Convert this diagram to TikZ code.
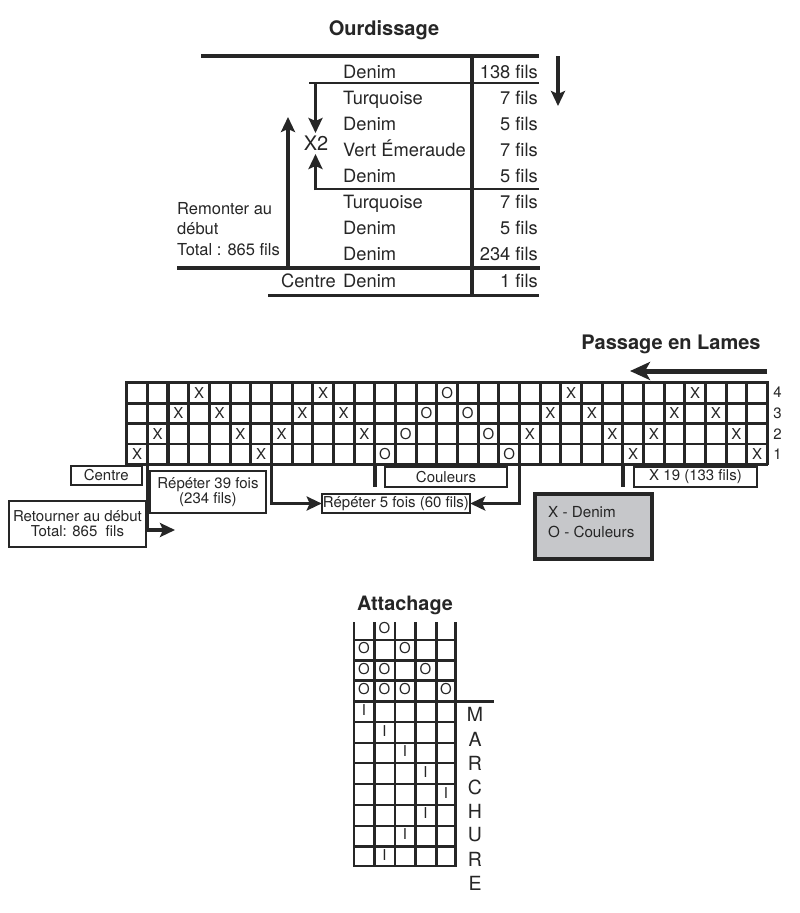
\documentclass[tikz,border=0pt]{standalone}
\usepackage{fontspec}
\setmainfont{TeX Gyre Heros}
\usetikzlibrary{arrows.meta}
\definecolor{ink}{HTML}{262626}
\definecolor{panel}{HTML}{C6C7CA}
\newcommand{\fsz}[1]{\fontsize{#1}{#1}\selectfont}
\tikzset{
  rule/.style={draw=ink,line width=#1},
  rule/.default=2pt,
  bigarrow/.style={draw=ink,line width=#1,-{Stealth[length=15pt,width=14pt,inset=3pt]}},
  bigarrow/.default=3.4pt,
  title/.style={inner sep=0pt,text=ink,font=\bfseries\fsz{20}},
  row/.style={inner sep=0pt,text=ink,font=\fsz{18.3},anchor=base west},
  qty/.style={inner sep=0pt,text=ink,font=\fsz{18.3},anchor=base east},
  note/.style={inner sep=0pt,text=ink,font=\fsz{16.5},anchor=base west},
  cellmark/.style={inner sep=0pt,text=ink,font=\fsz{15}},
  tagbox/.style={draw=ink,line width=2pt,fill=white,inner sep=0pt,outer sep=0pt,text=ink,font=\fsz{15},align=center,anchor=north west},
  letter/.style={inner sep=0pt,text=ink,font=\fsz{19.5}},
}
\begin{document}
\begin{tikzpicture}[x=1pt,y=-1pt]
\useasboundingbox (0,0) rectangle (800,913);
\fill[white] (0,0) rectangle (800,913);

% ---------- Ourdissage ----------
\node[title] (t1) at (384,30) {Ourdissage};
\draw[rule=3.4pt] (201,56) -- (539,56);
\draw[rule=2.4pt] (309,83) -- (539,83);
\draw[rule=2.4pt] (315,189) -- (539,189);
\draw[rule=4pt] (177,268) -- (540,268);
\draw[rule=3.4pt] (268,295.5) -- (539,295.5);
\draw[rule=3.6pt] (472,56) -- (472,295.5);

\foreach \yy/\nm/\q in {78/Denim/138 fils,104/Turquoise/7 fils,130/Denim/5 fils,156/Vert Émeraude/7 fils,182/Denim/5 fils,208.5/Turquoise/7 fils,234.5/Denim/5 fils,260.5/Denim/234 fils,287/Denim/1 fils}{
  \node[row] (n\yy) at (343,\yy) {\nm};
  \node[qty] (q\yy) at (538,\yy) {\q};
}
\node[inner sep=0pt,text=ink,font=\fsz{18.3},anchor=base east] (centre) at (336,287) {Centre};
\node[inner sep=0pt,text=ink,font=\fsz{20}] (x2) at (316,143) {X2};
\node[note] (r1) at (177,214) {Remonter au};
\node[note] (r2) at (177,234) {début};
\node[note] (r3) at (177,255) {Total : 865 fils};

\coordinate (dA) at (558,56);
\coordinate (dB) at (558,106);
\draw[bigarrow] (dA) -- (dB);
\coordinate (xA) at (315.5,84);
\coordinate (xB) at (315.5,133);
\draw[bigarrow] (xA) -- (xB);
\coordinate (xC) at (315.5,190);
\coordinate (xD) at (315.5,154);
\draw[bigarrow] (xC) -- (xD);
\coordinate (uA) at (288,268);
\coordinate (uB) at (288,117);
\draw[bigarrow] (uA) -- (uB);

% ---------- Passage en Lames ----------
\node[title] (t2) at (671,344) {Passage en Lames};
\coordinate (pA) at (767,371);
\coordinate (pB) at (630,371);
\draw[draw=ink,line width=5pt,-{Stealth[length=20pt,width=18pt,inset=5pt]}] (pA) -- (pB);

% grid
\foreach \i in {0,...,4}{
  \draw[rule=2.8pt] (125.3,{382.7+20.4*\i}) -- (768,{382.7+20.4*\i});
}
\foreach \i in {0,...,31}{
  \draw[rule=3.1pt] ({126.7+20.67*\i},381.3) -- ({126.7+20.67*\i},465);
}
\foreach \r/\yc/\lst in {
  4/392.6/{3/X,9/X,15/O,21/X,27/X},
  3/413.2/{2/X,4/X,8/X,10/X,14/O,16/O,20/X,22/X,26/X,28/X},
  2/433.8/{1/X,5/X,7/X,11/X,13/O,17/O,19/X,23/X,25/X,29/X},
  1/454.2/{0/X,6/X,12/O,18/O,24/X,30/X}}{
  \node[inner sep=0pt,text=ink,font=\fsz{15}] (lab\r) at (777.5,\yc) {\r};
  \foreach \c/\t in \lst {
    \node[cellmark] (g\c-\r) at ({126.7+20.67*(\c+0.5)},\yc) {\t};
  }
}

% boxes
\node[tagbox,minimum width=70.5pt,minimum height=19pt] (bcentre) at (71,466) {Centre};
\node[tagbox,minimum width=116pt,minimum height=42.5pt] (b39) at (150,470.7) {Répéter 39 fois\\(234 fils)};
\node[tagbox,minimum width=122pt,minimum height=20pt] (bcoul) at (385,467) {Couleurs};
\node[tagbox,minimum width=148.5pt,minimum height=19pt] (b5) at (321.7,494) {Répéter 5 fois (60 fils)};
\node[tagbox,minimum width=123pt,minimum height=20pt] (b19) at (634,467) {X 19 (133 fils)};
\node[tagbox,minimum width=137.5pt,minimum height=45.5pt] (bret) at (8.7,501) {Retourner au début\\Total: 865~ fils};
\node[draw=ink,line width=4pt,fill=panel,minimum width=116.5pt,minimum height=65pt,inner sep=0pt,outer sep=0pt,anchor=north west] (bleg) at (535,494) {};
\node[inner sep=0pt,text=ink,font=\fsz{15.2},anchor=base west] (leg1) at (548,517) {X - Denim};
\node[inner sep=0pt,text=ink,font=\fsz{15.2},anchor=base west] (leg2) at (548,537) {O - Couleurs};

% connectors
\coordinate (v1) at (147.4,464);
\coordinate (v1end) at (175,530);
\draw[bigarrow] (v1) |- (v1end);
\coordinate (v7) at (271.4,381);
\draw[bigarrow] (v7) |- (b5.west);
\coordinate (v19) at (519.4,464);
\draw[bigarrow] (v19) |- (b5.east);
\coordinate (v12a) at (374.8,464);
\coordinate (v12b) at (374.8,487);
\draw[rule=3.4pt] (v12a) -- (v12b);
\coordinate (v24a) at (622.8,464);
\coordinate (v24b) at (622.8,487);
\draw[rule=3.4pt] (v24a) -- (v24b);

% ---------- Attachage ----------
\node[title,font=\bfseries\fsz{19.8}] (t3) at (405,605) {Attachage};
\foreach \xx in {354,374.3,395,415.7,436.3,455.7}{
  \draw[rule=2.8pt] (\xx,622) -- (\xx,867);
}
\foreach \yy in {640,660.7,680.7,722,743,763,784,805,826,846.7,866}{
  \draw[rule=2.6pt] (353,\yy) -- (457,\yy);
}
\draw[rule=3pt] (353,701) -- (494,701);
\foreach \c/\t/\xx/\yy in {
 aa/O/384.5/628, ba/O/364/648, bb/O/405/648,
 ca/O/364/669, cb/O/384.5/669, cc/O/425.5/669,
 da/O/364/689.5, db/O/384.5/689.5, dc/O/405/689.5, dd/O/446/689.5,
 ea/I/364/710, fa/I/384.5/731, ga/I/405/751.5, ha/I/425.5/772,
 ia/I/446/793, ja/I/425.5/813.5, ka/I/405/834, la/I/384.5/855}{
  \node[cellmark] (m\c) at (\xx,\yy) {\t};
}
\foreach \l/\yy in {M/714,A/739,R/763,C/787,H/811,U/835,R/859,E/883}{
  \node[letter] (L\yy) at (475,\yy) {\l};
}
\end{tikzpicture}
\end{document}
